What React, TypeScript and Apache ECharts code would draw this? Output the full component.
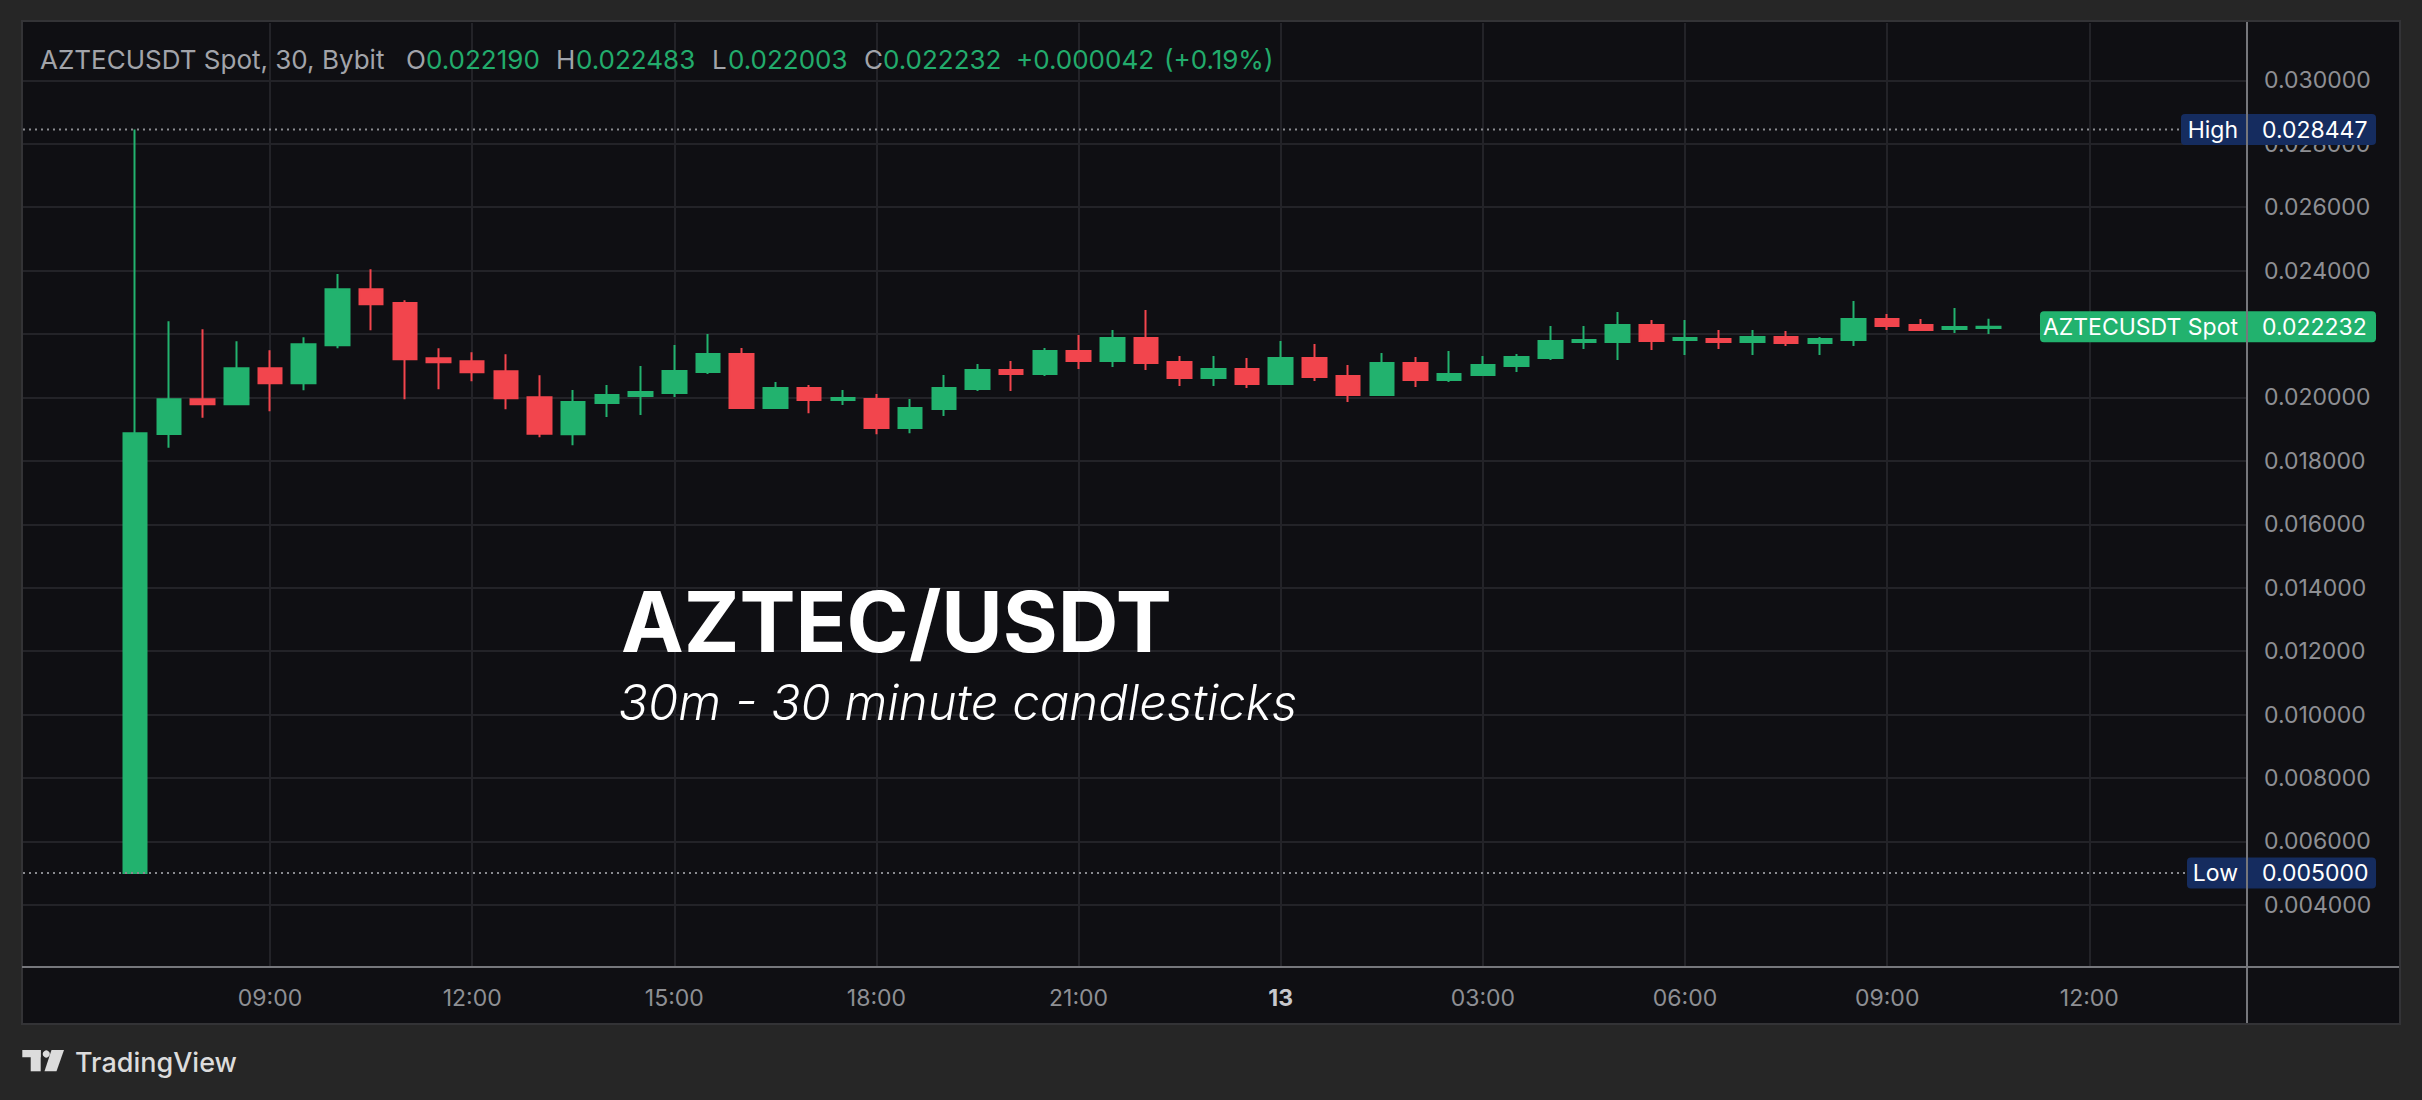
import React, { useEffect, useRef } from "react";
import * as echarts from "echarts";

// ---- Data (30-minute candles, AZTECUSDT Spot on Bybit, from 12th 07:00 to 13th 10:30) ----
const CANDLE_TIMES = [
  "07:00", "07:30", "08:00", "08:30", "09:00", "09:30", "10:00", "10:30", "11:00", "11:30",
  "12:00", "12:30", "13:00", "13:30", "14:00", "14:30", "15:00", "15:30", "16:00", "16:30",
  "17:00", "17:30", "18:00", "18:30", "19:00", "19:30", "20:00", "20:30", "21:00", "21:30",
  "22:00", "22:30", "23:00", "23:30", "00:00", "00:30", "01:00", "01:30", "02:00", "02:30",
  "03:00", "03:30", "04:00", "04:30", "05:00", "05:30", "06:00", "06:30", "07:00", "07:30",
  "08:00", "08:30", "09:00", "09:30", "10:00", "10:30",
];
const OPEN = [
  0.005, 0.01885, 0.019945, 0.019788, 0.020923, 0.02045, 0.021649, 0.023415, 0.022974, 0.021239,
  0.021144, 0.020829, 0.020009, 0.018842, 0.019821, 0.020042, 0.020137, 0.0208, 0.021368, 0.019663,
  0.020295, 0.019916, 0.019947, 0.019032, 0.019632, 0.020263, 0.020863, 0.020737, 0.021463, 0.021147,
  0.021874, 0.021116, 0.020611, 0.020895, 0.020421, 0.021242, 0.020674, 0.020074, 0.021084, 0.020547,
  0.020705, 0.020989, 0.021242, 0.021747, 0.021747, 0.022284, 0.021811, 0.021842, 0.021747, 0.021905,
  0.021716, 0.021811, 0.022474, 0.022284, 0.022158, 0.02219,
];
const CLOSE = [
  0.01887, 0.019945, 0.019788, 0.020923, 0.02045, 0.02168, 0.023415, 0.022942, 0.021207, 0.021113,
  0.020797, 0.019977, 0.018852, 0.019853, 0.020074, 0.020168, 0.020832, 0.021368, 0.019663, 0.020295,
  0.019916, 0.019979, 0.019032, 0.019663, 0.020295, 0.020863, 0.020737, 0.021463, 0.021147, 0.021874,
  0.021084, 0.020611, 0.020895, 0.020421, 0.021242, 0.020642, 0.020074, 0.021084, 0.020547, 0.020737,
  0.021021, 0.021274, 0.021779, 0.021811, 0.022284, 0.021779, 0.021874, 0.021747, 0.021905, 0.021716,
  0.021842, 0.022474, 0.022253, 0.022126, 0.022221, 0.022232,
];
const LOW = [
  0.005, 0.01841, 0.019357, 0.019756, 0.019567, 0.020229, 0.021554, 0.022122, 0.019945, 0.020261,
  0.020513, 0.01963, 0.018747, 0.018495, 0.019379, 0.019442, 0.020011, 0.020737, 0.019663, 0.019632,
  0.019505, 0.019758, 0.018842, 0.018874, 0.019411, 0.0202, 0.0202, 0.020674, 0.020895, 0.020958,
  0.020863, 0.020358, 0.020358, 0.020295, 0.020421, 0.020516, 0.019853, 0.020074, 0.020326, 0.020484,
  0.020705, 0.0208, 0.021179, 0.021526, 0.021179, 0.021495, 0.021337, 0.021526, 0.021337, 0.021621,
  0.021337, 0.021621, 0.022126, 0.022126, 0.022032, 0.022003,
];
const HIGH = [
  0.028447, 0.022406, 0.022154, 0.021775, 0.021491, 0.021901, 0.023889, 0.024046, 0.023068, 0.021554,
  0.021428, 0.021365, 0.020703, 0.020232, 0.020389, 0.020989, 0.021653, 0.022, 0.021558, 0.020484,
  0.020389, 0.020232, 0.020105, 0.019947, 0.020705, 0.021053, 0.021147, 0.021558, 0.021968, 0.022126,
  0.022758, 0.021305, 0.021305, 0.021242, 0.021779, 0.021684, 0.021021, 0.0214, 0.021274, 0.021463,
  0.021305, 0.021368, 0.022253, 0.022253, 0.022695, 0.022442, 0.022442, 0.022126, 0.022126, 0.022095,
  0.021905, 0.023042, 0.022632, 0.022474, 0.022821, 0.022483,
];
// x slots are half-hours counted from 12th 06:00; the first candle (07:00) sits in slot 2
const FIRST_SLOT = 2;
const X_TICKS = [6, 12, 18, 24, 30, 36, 42, 48, 54, 60];
const X_TICK_LABELS = ["09:00", "12:00", "15:00", "18:00", "21:00", "13", "03:00", "06:00", "09:00", "12:00"];
const Y_TICKS = [
  0.004, 0.006, 0.008, 0.01, 0.012, 0.014, 0.016, 0.018, 0.02, 0.022, 0.024, 0.026, 0.028, 0.03,
];
const SESSION_HIGH = 0.028447;
const SESSION_LOW = 0.005;
const SYMBOL_TITLE = "AZTECUSDT Spot, 30, Bybit";
const SPOT_LABEL = "AZTECUSDT Spot";
const WATERMARK_TITLE = "AZTEC/USDT";
const WATERMARK_SUB = "30m - 30 minute candlesticks";

const GREEN = "#22b26e";
const RED = "#f2454d";
const FONT = "Inter, 'Noto Sans', Roboto, sans-serif";
const AXIS_TEXT = "#8e8f94";

export default function App() {
  const ref = useRef<HTMLDivElement>(null);

  useEffect(() => {
    if (!ref.current) return;
    const chart = echarts.init(ref.current, null, { renderer: "svg" });

    const data = OPEN.map((o, i) => [i + FIRST_SLOT, o, CLOSE[i], LOW[i], HIGH[i]]);
    const last = CLOSE[CLOSE.length - 1];
    // the last-price tag covers the axis label right under it
    const yLabelValues = Y_TICKS.filter((t) => Math.abs(t - last) > 0.0004);

    chart.setOption({
      animation: false,
      backgroundColor: "transparent",
      grid: { left: 23, top: 23, width: 2224, height: 944 },
      xAxis: {
        type: "value",
        min: -1.3316,
        max: 64.68,
        axisLine: { show: false },
        axisTick: { show: false, customValues: X_TICKS },
        axisLabel: {
          customValues: X_TICKS,
          margin: 19,
          color: AXIS_TEXT,
          fontSize: 23,
          fontFamily: FONT,
          formatter: (v: number) => {
            const idx = X_TICKS.indexOf(Math.round(v));
            const s = idx >= 0 ? X_TICK_LABELS[idx] : "";
            return s.indexOf(":") < 0 && s ? "{b|" + s + "}" : s;
          },
          rich: {
            b: { fontWeight: 700, color: "#c8c9cd", fontSize: 23, fontFamily: FONT },
          },
        },
        splitLine: { show: true, lineStyle: { color: "#232328", width: 2 } },
      },
      yAxis: {
        type: "value",
        position: "right",
        min: 0.002038,
        max: 0.031808,
        axisLine: { show: false },
        axisTick: { show: false, customValues: Y_TICKS },
        axisLabel: {
          customValues: yLabelValues,
          margin: 17,
          color: AXIS_TEXT,
          fontSize: 23,
          fontFamily: FONT,
          formatter: (v: number) => v.toFixed(6),
        },
        splitLine: { show: true, lineStyle: { color: "#232328", width: 2 } },
      },
      series: [
        {
          type: "candlestick",
          data,
          encode: { x: 0, y: [1, 2, 3, 4] },
          barWidth: 24,
          itemStyle: {
            color: GREEN,
            color0: RED,
            borderColor: GREEN,
            borderColor0: RED,
            borderWidth: 2,
          },
        },
      ],
    });

    const py = (v: number) => chart.convertToPixel({ yAxisIndex: 0 }, v) as number;
    const yHigh = py(SESSION_HIGH);
    const yLow = py(SESSION_LOW);
    const yLast = py(last);

    const lastO = OPEN[OPEN.length - 1];
    const lastH = HIGH[HIGH.length - 1];
    const lastL = LOW[LOW.length - 1];
    const change = last - lastO;
    const pct = (change / lastO) * 100;

    const txt = (
      text: string,
      x: number,
      y: number,
      fill: string,
      fontSize: number,
      extra: any = {},
      z = 120
    ) => ({
      type: "text",
      x,
      y,
      z,
      silent: true,
      style: {
        text,
        fill,
        fontSize,
        fontFamily: FONT,
        align: "left",
        verticalAlign: "middle",
        ...extra,
      },
    });

    const priceTag = (
      label: string,
      value: number,
      y: number,
      boxLeft: number,
      color: string
    ) => [
      {
        type: "rect",
        z: 110,
        silent: true,
        shape: { x: boxLeft, y: y - 15.5, width: 2376 - boxLeft, height: 31, r: 4 },
        style: { fill: color },
      },
      txt(label, 2238, y, "#ffffff", 23, { align: "right" }),
      txt(value.toFixed(6), 2262, y, "#ffffff", 23),
    ];

    const gray = "#a2a4aa";
    const green = "#22ab6c";
    const HF = 26;

    chart.setOption({
      graphic: [
        // session high / low dotted lines
        {
          type: "line",
          z: 100,
          silent: true,
          shape: { x1: 23, y1: yHigh, x2: 2181, y2: yHigh },
          style: { stroke: "#8a8b90", lineWidth: 2, lineDash: [2, 4] },
        },
        {
          type: "line",
          z: 100,
          silent: true,
          shape: { x1: 23, y1: yLow, x2: 2187, y2: yLow },
          style: { stroke: "#8a8b90", lineWidth: 2, lineDash: [2, 4] },
        },
        ...priceTag("High", SESSION_HIGH, yHigh, 2181, "#152c5f"),
        ...priceTag("Low", SESSION_LOW, yLow, 2187, "#152c5f"),
        ...priceTag(SPOT_LABEL, last, yLast, 2040, GREEN),
        // axis separators
        {
          type: "line",
          z: 130,
          silent: true,
          shape: { x1: 2247, y1: 22, x2: 2247, y2: 1023 },
          style: { stroke: "#76777c", lineWidth: 2 },
        },
        {
          type: "line",
          z: 130,
          silent: true,
          shape: { x1: 22, y1: 967, x2: 2399, y2: 967 },
          style: { stroke: "#76777c", lineWidth: 2 },
        },
        // legend header
        txt(SYMBOL_TITLE, 40, 59, gray, HF),
        txt("O", 406, 59, gray, HF),
        txt(lastO.toFixed(6), 426, 59, green, HF),
        txt("H", 556, 59, gray, HF),
        txt(lastH.toFixed(6), 576, 59, green, HF),
        txt("L", 712, 59, gray, HF),
        txt(lastL.toFixed(6), 728, 59, green, HF),
        txt("C", 864, 59, gray, HF),
        txt(last.toFixed(6), 883, 59, green, HF),
        txt((change >= 0 ? "+" : "") + change.toFixed(6), 1016, 59, green, HF),
        txt("(" + (pct >= 0 ? "+" : "") + pct.toFixed(2) + "%)", 1164, 59, green, HF),
        // watermark
        txt(WATERMARK_TITLE, 621, 621, "#ffffff", 84, { fontWeight: 700 }),
        txt(WATERMARK_SUB, 618, 702, "#ffffff", 49, { fontStyle: "italic", fontWeight: 300 }),
        // TradingView logo
        {
          type: "rect",
          z: 120,
          silent: true,
          shape: { x: 22.3, y: 1050, width: 18.4, height: 7.3 },
          style: { fill: "#dcdcdc" },
        },
        {
          type: "rect",
          z: 120,
          silent: true,
          shape: { x: 30.7, y: 1050, width: 10, height: 21.3 },
          style: { fill: "#dcdcdc" },
        },
        {
          type: "circle",
          z: 120,
          silent: true,
          shape: { cx: 46.3, cy: 1054, r: 3.6 },
          style: { fill: "#dcdcdc" },
        },
        {
          type: "polygon",
          z: 120,
          silent: true,
          shape: {
            points: [
              [51.5, 1050],
              [64, 1050],
              [56.5, 1071.3],
              [44.5, 1071.3],
            ],
          },
          style: { fill: "#dcdcdc" },
        },
        txt("TradingView", 75, 1062.5, "#dcdcdc", 27, { fontWeight: 500 }),
      ],
    });

    return () => chart.dispose();
  }, []);

  return (
    <div
      style={{
        position: "fixed",
        left: 0,
        top: 0,
        width: 2422,
        height: 1100,
        background: "#262626",
        overflow: "hidden",
      }}
    >
      <div
        style={{
          position: "absolute",
          left: 21,
          top: 20,
          width: 2376,
          height: 1001,
          background: "#0f0f13",
          border: "2px solid #333336",
        }}
      />
      <div
        ref={ref}
        style={{ position: "absolute", left: 0, top: 0, width: 2422, height: 1100 }}
      />
    </div>
  );
}
